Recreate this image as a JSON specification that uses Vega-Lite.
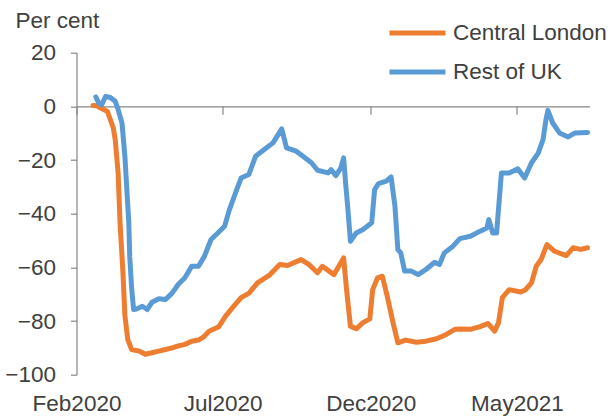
{
  "$schema": "https://vega.github.io/schema/vega-lite/v6.json",
  "width": 513,
  "height": 322,
  "autosize": {"type": "none"},
  "padding": {"left": 76.5, "top": 52.7, "right": 24.5, "bottom": 41.3},
  "background": "white",
  "config": {
    "font": "Liberation Sans",
    "view": {"stroke": null},
    "axis": {"labelColor": "#404040", "domainColor": "#868686", "tickColor": "#868686", "labelFontSize": 22.5, "grid": false, "domainWidth": 1.2, "tickWidth": 1.2}
  },
  "datasets": {
    "mobility": [
      {"date": "2020-02-18", "region": "Central London", "value": 0.3},
      {"date": "2020-02-22", "region": "Central London", "value": 0.2},
      {"date": "2020-02-26", "region": "Central London", "value": -0.6},
      {"date": "2020-03-04", "region": "Central London", "value": -1.9},
      {"date": "2020-03-07", "region": "Central London", "value": -5},
      {"date": "2020-03-10", "region": "Central London", "value": -8},
      {"date": "2020-03-12", "region": "Central London", "value": -12.4},
      {"date": "2020-03-15", "region": "Central London", "value": -24.8},
      {"date": "2020-03-17", "region": "Central London", "value": -43.4},
      {"date": "2020-03-20", "region": "Central London", "value": -62},
      {"date": "2020-03-22", "region": "Central London", "value": -78},
      {"date": "2020-03-25", "region": "Central London", "value": -86.9},
      {"date": "2020-03-29", "region": "Central London", "value": -90.6},
      {"date": "2020-04-06", "region": "Central London", "value": -91.2},
      {"date": "2020-04-12", "region": "Central London", "value": -92.4},
      {"date": "2020-04-19", "region": "Central London", "value": -91.8},
      {"date": "2020-04-26", "region": "Central London", "value": -91.2},
      {"date": "2020-05-03", "region": "Central London", "value": -90.6},
      {"date": "2020-05-10", "region": "Central London", "value": -90},
      {"date": "2020-05-16", "region": "Central London", "value": -89.3},
      {"date": "2020-05-23", "region": "Central London", "value": -88.7},
      {"date": "2020-05-30", "region": "Central London", "value": -87.5},
      {"date": "2020-06-06", "region": "Central London", "value": -87.1},
      {"date": "2020-06-11", "region": "Central London", "value": -86},
      {"date": "2020-06-17", "region": "Central London", "value": -83.8},
      {"date": "2020-06-27", "region": "Central London", "value": -82.1},
      {"date": "2020-07-04", "region": "Central London", "value": -78.2},
      {"date": "2020-07-11", "region": "Central London", "value": -75.1},
      {"date": "2020-07-20", "region": "Central London", "value": -71.3},
      {"date": "2020-07-28", "region": "Central London", "value": -69.7},
      {"date": "2020-08-06", "region": "Central London", "value": -65.8},
      {"date": "2020-08-18", "region": "Central London", "value": -63},
      {"date": "2020-08-29", "region": "Central London", "value": -58.9},
      {"date": "2020-09-06", "region": "Central London", "value": -59.3},
      {"date": "2020-09-20", "region": "Central London", "value": -57.1},
      {"date": "2020-09-28", "region": "Central London", "value": -58.9},
      {"date": "2020-10-07", "region": "Central London", "value": -62},
      {"date": "2020-10-12", "region": "Central London", "value": -59.6},
      {"date": "2020-10-19", "region": "Central London", "value": -61.4},
      {"date": "2020-10-24", "region": "Central London", "value": -62.7},
      {"date": "2020-10-29", "region": "Central London", "value": -59.6},
      {"date": "2020-11-03", "region": "Central London", "value": -56.5},
      {"date": "2020-11-06", "region": "Central London", "value": -68.3},
      {"date": "2020-11-10", "region": "Central London", "value": -81.9},
      {"date": "2020-11-16", "region": "Central London", "value": -82.9},
      {"date": "2020-11-23", "region": "Central London", "value": -80.6},
      {"date": "2020-11-30", "region": "Central London", "value": -79.2},
      {"date": "2020-12-03", "region": "Central London", "value": -68.3},
      {"date": "2020-12-08", "region": "Central London", "value": -63.9},
      {"date": "2020-12-13", "region": "Central London", "value": -63.3},
      {"date": "2020-12-18", "region": "Central London", "value": -70.7},
      {"date": "2020-12-24", "region": "Central London", "value": -80.6},
      {"date": "2020-12-29", "region": "Central London", "value": -88.1},
      {"date": "2021-01-06", "region": "Central London", "value": -87.1},
      {"date": "2021-01-17", "region": "Central London", "value": -87.9},
      {"date": "2021-01-27", "region": "Central London", "value": -87.5},
      {"date": "2021-02-07", "region": "Central London", "value": -86.6},
      {"date": "2021-02-17", "region": "Central London", "value": -85},
      {"date": "2021-02-26", "region": "Central London", "value": -83.1},
      {"date": "2021-03-03", "region": "Central London", "value": -83},
      {"date": "2021-03-14", "region": "Central London", "value": -83.1},
      {"date": "2021-03-24", "region": "Central London", "value": -82.1},
      {"date": "2021-04-01", "region": "Central London", "value": -80.9},
      {"date": "2021-04-08", "region": "Central London", "value": -83.8},
      {"date": "2021-04-12", "region": "Central London", "value": -80.6},
      {"date": "2021-04-16", "region": "Central London", "value": -71.3},
      {"date": "2021-04-23", "region": "Central London", "value": -68.3},
      {"date": "2021-05-05", "region": "Central London", "value": -69.2},
      {"date": "2021-05-10", "region": "Central London", "value": -68.3},
      {"date": "2021-05-16", "region": "Central London", "value": -65.8},
      {"date": "2021-05-21", "region": "Central London", "value": -59.6},
      {"date": "2021-05-26", "region": "Central London", "value": -57.1},
      {"date": "2021-06-01", "region": "Central London", "value": -51.5},
      {"date": "2021-06-09", "region": "Central London", "value": -54},
      {"date": "2021-06-21", "region": "Central London", "value": -55.6},
      {"date": "2021-06-28", "region": "Central London", "value": -52.7},
      {"date": "2021-07-06", "region": "Central London", "value": -53.3},
      {"date": "2021-07-13", "region": "Central London", "value": -52.7},
      {"date": "2020-02-21", "region": "Rest of UK", "value": 3.5},
      {"date": "2020-02-24", "region": "Rest of UK", "value": 1.2},
      {"date": "2020-02-27", "region": "Rest of UK", "value": 0.6},
      {"date": "2020-03-02", "region": "Rest of UK", "value": 3.7},
      {"date": "2020-03-07", "region": "Rest of UK", "value": 3.3},
      {"date": "2020-03-12", "region": "Rest of UK", "value": 1.9},
      {"date": "2020-03-15", "region": "Rest of UK", "value": -1.2},
      {"date": "2020-03-19", "region": "Rest of UK", "value": -6.2},
      {"date": "2020-03-22", "region": "Rest of UK", "value": -18.6},
      {"date": "2020-03-24", "region": "Rest of UK", "value": -31},
      {"date": "2020-03-26", "region": "Rest of UK", "value": -43},
      {"date": "2020-03-27", "region": "Rest of UK", "value": -56},
      {"date": "2020-03-29", "region": "Rest of UK", "value": -68},
      {"date": "2020-03-31", "region": "Rest of UK", "value": -75.7},
      {"date": "2020-04-03", "region": "Rest of UK", "value": -75.5},
      {"date": "2020-04-09", "region": "Rest of UK", "value": -74.5},
      {"date": "2020-04-14", "region": "Rest of UK", "value": -75.7},
      {"date": "2020-04-19", "region": "Rest of UK", "value": -73},
      {"date": "2020-04-26", "region": "Rest of UK", "value": -71.7},
      {"date": "2020-05-03", "region": "Rest of UK", "value": -72},
      {"date": "2020-05-10", "region": "Rest of UK", "value": -69.5},
      {"date": "2020-05-16", "region": "Rest of UK", "value": -66.4},
      {"date": "2020-05-23", "region": "Rest of UK", "value": -63.9},
      {"date": "2020-05-30", "region": "Rest of UK", "value": -59.6},
      {"date": "2020-06-06", "region": "Rest of UK", "value": -59.6},
      {"date": "2020-06-12", "region": "Rest of UK", "value": -56},
      {"date": "2020-06-19", "region": "Rest of UK", "value": -49.6},
      {"date": "2020-06-26", "region": "Rest of UK", "value": -47.2},
      {"date": "2020-07-03", "region": "Rest of UK", "value": -44.7},
      {"date": "2020-07-08", "region": "Rest of UK", "value": -38.5},
      {"date": "2020-07-13", "region": "Rest of UK", "value": -33.5},
      {"date": "2020-07-20", "region": "Rest of UK", "value": -26.7},
      {"date": "2020-07-28", "region": "Rest of UK", "value": -25.4},
      {"date": "2020-08-04", "region": "Rest of UK", "value": -18.6},
      {"date": "2020-08-13", "region": "Rest of UK", "value": -16.1},
      {"date": "2020-08-22", "region": "Rest of UK", "value": -13.6},
      {"date": "2020-08-31", "region": "Rest of UK", "value": -8.4},
      {"date": "2020-09-05", "region": "Rest of UK", "value": -15.5},
      {"date": "2020-09-15", "region": "Rest of UK", "value": -16.7},
      {"date": "2020-09-22", "region": "Rest of UK", "value": -18.6},
      {"date": "2020-10-01", "region": "Rest of UK", "value": -21.1},
      {"date": "2020-10-07", "region": "Rest of UK", "value": -23.8},
      {"date": "2020-10-18", "region": "Rest of UK", "value": -24.8},
      {"date": "2020-10-21", "region": "Rest of UK", "value": -23.6},
      {"date": "2020-10-26", "region": "Rest of UK", "value": -25.8},
      {"date": "2020-10-31", "region": "Rest of UK", "value": -23},
      {"date": "2020-11-03", "region": "Rest of UK", "value": -19.2},
      {"date": "2020-11-05", "region": "Rest of UK", "value": -28.5},
      {"date": "2020-11-08", "region": "Rest of UK", "value": -40.9},
      {"date": "2020-11-10", "region": "Rest of UK", "value": -50.3},
      {"date": "2020-11-16", "region": "Rest of UK", "value": -47.2},
      {"date": "2020-11-23", "region": "Rest of UK", "value": -45.9},
      {"date": "2020-12-02", "region": "Rest of UK", "value": -43.4},
      {"date": "2020-12-05", "region": "Rest of UK", "value": -31},
      {"date": "2020-12-09", "region": "Rest of UK", "value": -28.8},
      {"date": "2020-12-17", "region": "Rest of UK", "value": -27.9},
      {"date": "2020-12-22", "region": "Rest of UK", "value": -26.3},
      {"date": "2020-12-26", "region": "Rest of UK", "value": -37.2},
      {"date": "2020-12-29", "region": "Rest of UK", "value": -53.4},
      {"date": "2021-01-01", "region": "Rest of UK", "value": -54.6},
      {"date": "2021-01-05", "region": "Rest of UK", "value": -61.4},
      {"date": "2021-01-12", "region": "Rest of UK", "value": -61.4},
      {"date": "2021-01-19", "region": "Rest of UK", "value": -62.7},
      {"date": "2021-01-27", "region": "Rest of UK", "value": -60.8},
      {"date": "2021-02-05", "region": "Rest of UK", "value": -58.1},
      {"date": "2021-02-10", "region": "Rest of UK", "value": -58.9},
      {"date": "2021-02-15", "region": "Rest of UK", "value": -54.6},
      {"date": "2021-02-24", "region": "Rest of UK", "value": -52.1},
      {"date": "2021-03-03", "region": "Rest of UK", "value": -49.3},
      {"date": "2021-03-14", "region": "Rest of UK", "value": -48.4},
      {"date": "2021-03-24", "region": "Rest of UK", "value": -46.5},
      {"date": "2021-03-31", "region": "Rest of UK", "value": -45.3},
      {"date": "2021-04-02", "region": "Rest of UK", "value": -42.2},
      {"date": "2021-04-06", "region": "Rest of UK", "value": -47.2},
      {"date": "2021-04-10", "region": "Rest of UK", "value": -47.2},
      {"date": "2021-04-15", "region": "Rest of UK", "value": -24.8},
      {"date": "2021-04-23", "region": "Rest of UK", "value": -24.8},
      {"date": "2021-05-02", "region": "Rest of UK", "value": -23.3},
      {"date": "2021-05-09", "region": "Rest of UK", "value": -26.7},
      {"date": "2021-05-16", "region": "Rest of UK", "value": -21.1},
      {"date": "2021-05-23", "region": "Rest of UK", "value": -17.4},
      {"date": "2021-05-28", "region": "Rest of UK", "value": -12.4},
      {"date": "2021-05-31", "region": "Rest of UK", "value": -5},
      {"date": "2021-06-02", "region": "Rest of UK", "value": -1.5},
      {"date": "2021-06-07", "region": "Rest of UK", "value": -6.2},
      {"date": "2021-06-14", "region": "Rest of UK", "value": -9.9},
      {"date": "2021-06-23", "region": "Rest of UK", "value": -11.4},
      {"date": "2021-06-30", "region": "Rest of UK", "value": -9.9},
      {"date": "2021-07-13", "region": "Rest of UK", "value": -9.7}
    ]
  },
  "data": {"name": "mobility"},
  "mark": {"type": "line", "strokeWidth": 5, "strokeJoin": "round", "strokeCap": "round"},
  "encoding": {
    "x": {
      "field": "date",
      "type": "temporal",
      "scale": {"type": "utc", "domain": [{"year": 2020, "month": "feb", "date": 1, "utc": true}, {"year": 2021, "month": "jul", "date": 15, "utc": true}]},
      "axis": {
        "title": null,
        "format": "%b%Y",
        "offset": -268.33,
        "tickSize": 8,
        "labelPadding": 278,
        "labelFlush": false,
        "labelOverlap": false,
        "values": [
          {"year": 2020, "month": "feb", "date": 1, "utc": true},
          {"year": 2020, "month": "jul", "date": 1, "utc": true},
          {"year": 2020, "month": "dec", "date": 1, "utc": true},
          {"year": 2021, "month": "may", "date": 1, "utc": true}
        ]
      }
    },
    "y": {
      "field": "value",
      "type": "quantitative",
      "scale": {"domain": [-100, 20], "nice": false, "zero": false},
      "axis": {
        "values": [-100, -80, -60, -40, -20, 0, 20],
        "tickSize": 6,
        "labelPadding": 15,
        "title": "Per cent",
        "titleAngle": 0,
        "titleAlign": "left",
        "titleBaseline": "middle",
        "titleX": -61.5,
        "titleY": -32,
        "titleFontSize": 22.5,
        "titleFontWeight": "normal",
        "titleColor": "#404040"
      }
    },
    "color": {
      "field": "region",
      "type": "nominal",
      "scale": {"domain": ["Central London", "Rest of UK"], "range": ["#ED7D31", "#5B9BD5"]},
      "legend": {
        "title": null,
        "orient": "none",
        "legendX": 310.5,
        "legendY": -39.2,
        "symbolType": "stroke",
        "symbolSize": 3136,
        "symbolStrokeWidth": 5,
        "clipHeight": 39,
        "rowPadding": 0,
        "labelOffset": 5,
        "labelFontSize": 22.5,
        "labelColor": "#404040",
        "labelLimit": 300
      }
    }
  }
}
